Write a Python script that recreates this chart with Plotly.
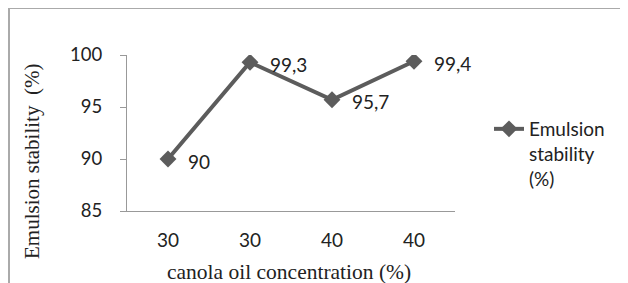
import plotly.graph_objects as go

categories = ["30", "30", "40", "40"]
stability = [90, 99.3, 95.7, 99.4]
value_labels = ["90", "99,3", "95,7", "99,4"]
y_ticks = [85, 90, 95, 100]
series_name = "Emulsion<br>stability<br>(%)"

x_pos = list(range(len(categories)))

# The page body adds an 8px margin; lay the figure out in window pixels minus that offset.
OFF = 8
W, H = 628 - OFF, 283 - OFF
L, T = 127 - OFF, 55 - OFF
R = W - (455 - OFF)
B = H - (211 - OFF)
pw, ph = W - L - R, H - T - B

def px_x(p):
    return (p - OFF - L) / pw

def px_y(p):
    return (H - B - (p - OFF)) / ph

sans = "Lato, 'Open Sans', sans-serif"
serif = "'Liberation Serif', 'Times New Roman', serif"
col = "#5c5c5c"

fig = go.Figure()
fig.add_trace(go.Scatter(
    x=x_pos, y=stability, mode="lines+markers", name=series_name,
    line=dict(color=col, width=4),
    marker=dict(symbol="diamond", size=13, color=col),
))

for xi, yi, lab in zip(x_pos, stability, value_labels):
    fig.add_annotation(x=xi, y=yi, text=lab, showarrow=False,
                       xanchor="left", yanchor="middle", xshift=18, yshift=-2,
                       font=dict(family=sans, size=19, color="#222"))

fig.add_annotation(xref="paper", yref="paper", x=px_x(289), y=px_y(272),
                   text="canola oil concentration (%)", showarrow=False,
                   xanchor="center", yanchor="middle",
                   font=dict(family=serif, size=21.5, color="#222"))
fig.add_annotation(xref="paper", yref="paper", x=px_x(32), y=px_y(162),
                   text="Emulsion stability  (%)", showarrow=False, textangle=-90,
                   xanchor="center", yanchor="middle",
                   font=dict(family=serif, size=21, color="#222"))

fig.add_shape(type="rect", xref="paper", yref="paper",
              x0=px_x(9), x1=px_x(660), y0=px_y(320), y1=px_y(8),
              line=dict(color="#aaaaaa", width=2), layer="below")

fig.update_layout(
    width=W, height=H,
    margin=dict(l=L, r=R, t=T, b=B),
    paper_bgcolor="white", plot_bgcolor="white",
    showlegend=True,
    legend=dict(x=px_x(489), y=px_y(110), xanchor="left", yanchor="top",
                valign="top", font=dict(family=sans, size=19, color="#222"),
                bgcolor="rgba(0,0,0,0)"),
    xaxis=dict(range=[-0.5, 3.5], tickvals=x_pos, ticktext=categories,
               showgrid=False, zeroline=False, showline=True,
               linecolor="#999999", linewidth=1, ticks="",
               tickfont=dict(family=sans, size=19, color="#222"),
               ticklabelstandoff=12, fixedrange=True),
    yaxis=dict(range=[85, 100], tickvals=y_ticks,
               showgrid=False, zeroline=False, showline=True,
               linecolor="#999999", linewidth=1, ticks="outside",
               ticklen=6, tickcolor="#999999",
               tickfont=dict(family=sans, size=18.5, color="#222"),
               ticklabelstandoff=14, fixedrange=True),
)

fig.write_html("out.html")
